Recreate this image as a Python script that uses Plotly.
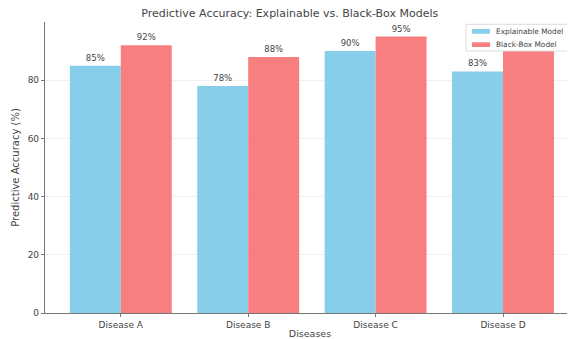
import plotly.graph_objects as go

categories = ["Disease A", "Disease B", "Disease C", "Disease D"]
explainable = [85, 78, 90, 83]
black_box = [92, 88, 95, 90]
y_ticks = [0, 20, 40, 60, 80]
series_names = ["Explainable Model", "Black-Box Model"]
series_colors = ["#87CEEB", "#F77F7F"]

font_family = "DejaVu Sans, sans-serif"
text_color = "#444444"

fig = go.Figure()
for name, vals, color in zip(series_names, [explainable, black_box], series_colors):
    fig.add_trace(go.Bar(
        x=categories, y=vals, name=name,
        marker=dict(color=color, line=dict(width=0)),
        text=[f"{v}%" for v in vals], textposition="outside",
        textfont=dict(size=8.5, color=text_color, family=font_family),
        cliponaxis=False, showlegend=False,
    ))

# Legend drawn as a small box (matplotlib-style) in paper coordinates
shapes = [dict(type="rect", xref="paper", yref="paper", x0=0.7943, x1=1.03, y0=0.9003, y1=0.9921,
               fillcolor="white", line=dict(color="#dddddd", width=1), layer="above")]
annotations = []
row_patch = [(0.9598, 0.9759), (0.9141, 0.9302)]
row_text = [0.968, 0.922]
for name, color, (py0, py1), ty in zip(series_names, series_colors, row_patch, row_text):
    shapes.append(dict(type="rect", xref="paper", yref="paper", x0=0.8057, x1=0.8396, y0=py0, y1=py1,
                       fillcolor=color, line=dict(width=0), layer="above"))
    annotations.append(dict(text=name, xref="paper", yref="paper", x=0.8472, y=ty,
                            xanchor="left", yanchor="middle", showarrow=False,
                            font=dict(size=7.4, color=text_color, family=font_family)))

fig.update_layout(
    width=567, height=331,
    margin=dict(l=37, r=0, t=14, b=26, autoexpand=False),
    paper_bgcolor="white", plot_bgcolor="white",
    barmode="group", bargap=0.2, bargroupgap=0,
    font=dict(family=font_family, size=9, color=text_color),
    title=dict(text="Predictive Accuracy: Explainable vs. Black-Box Models",
               x=0.497, xanchor="center", y=0.985, yanchor="middle",
               font=dict(size=11, color="#444444", family=font_family)),
    showlegend=False,
    shapes=shapes,
    annotations=annotations,
    xaxis=dict(
        title=dict(text="Diseases", font=dict(size=9.5, color=text_color), standoff=2),
        automargin=False,
        range=[-0.595, 3.565], showline=True, linecolor="#777777", linewidth=1.2,
        ticks="outside", ticklen=3, tickcolor="#777777", showgrid=False,
        tickfont=dict(size=9, color=text_color),
    ),
    yaxis=dict(
        title=dict(text="Predictive Accuracy (%)", font=dict(size=10, color=text_color), standoff=6),
        automargin=False,
        range=[0, 100], tickvals=y_ticks, showline=True, linecolor="#777777", linewidth=1.2,
        ticks="outside", ticklen=3, tickcolor="#777777",
        showgrid=True, gridcolor="#f0f0f0", gridwidth=1, zeroline=False,
        tickfont=dict(size=9, color=text_color),
    ),
)

fig.write_html("out.html")
